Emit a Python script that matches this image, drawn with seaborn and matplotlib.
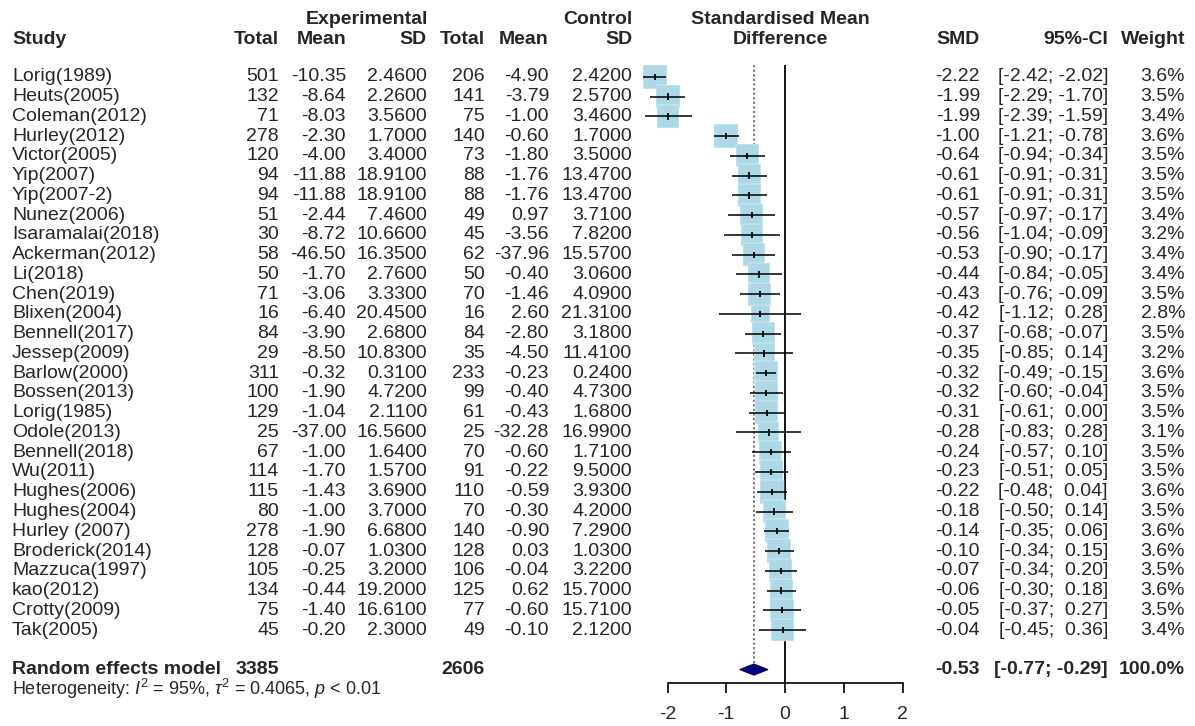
import numpy as np
import pandas as pd
import matplotlib
matplotlib.use("Agg")
import matplotlib.pyplot as plt
import matplotlib.transforms as mtransforms
import seaborn as sns

# study data
studies = ["Lorig(1989)", "Heuts(2005)", "Coleman(2012)", "Hurley(2012)", "Victor(2005)",
           "Yip(2007)", "Yip(2007-2)", "Nunez(2006)", "Isaramalai(2018)", "Ackerman(2012)",
           "Li(2018)", "Chen(2019)", "Blixen(2004)", "Bennell(2017)", "Jessep(2009)",
           "Barlow(2000)", "Bossen(2013)", "Lorig(1985)", "Odole(2013)", "Bennell(2018)",
           "Wu(2011)", "Hughes(2006)", "Hughes(2004)", "Hurley (2007)", "Broderick(2014)",
           "Mazzuca(1997)", "kao(2012)", "Crotty(2009)", "Tak(2005)"]
exp_n = [501, 132, 71, 278, 120, 94, 94, 51, 30, 58, 50, 71, 16, 84, 29,
         311, 100, 129, 25, 67, 114, 115, 80, 278, 128, 105, 134, 75, 45]
exp_mean = [-10.35, -8.64, -8.03, -2.30, -4.00, -11.88, -11.88, -2.44, -8.72, -46.50,
            -1.70, -3.06, -6.40, -3.90, -8.50, -0.32, -1.90, -1.04, -37.00, -1.00,
            -1.70, -1.43, -1.00, -1.90, -0.07, -0.25, -0.44, -1.40, -0.20]
exp_sd = [2.46, 2.26, 3.56, 1.70, 3.40, 18.91, 18.91, 7.46, 10.66, 16.35,
          2.76, 3.33, 20.45, 2.68, 10.83, 0.31, 4.72, 2.11, 16.56, 1.64,
          1.57, 3.69, 3.70, 6.68, 1.03, 3.20, 19.20, 16.61, 2.30]
ctl_n = [206, 141, 75, 140, 73, 88, 88, 49, 45, 62, 50, 70, 16, 84, 35,
         233, 99, 61, 25, 70, 91, 110, 70, 140, 128, 106, 125, 77, 49]
ctl_mean = [-4.90, -3.79, -1.00, -0.60, -1.80, -1.76, -1.76, 0.97, -3.56, -37.96,
            -0.40, -1.46, 2.60, -2.80, -4.50, -0.23, -0.40, -0.43, -32.28, -0.60,
            -0.22, -0.59, -0.30, -0.90, 0.03, -0.04, 0.62, -0.60, -0.10]
ctl_sd = [2.42, 2.57, 3.46, 1.70, 3.50, 13.47, 13.47, 3.71, 7.82, 15.57,
          3.06, 4.09, 21.31, 3.18, 11.41, 0.24, 4.73, 1.68, 16.99, 1.71,
          9.50, 3.93, 4.20, 7.29, 1.03, 3.22, 15.70, 15.71, 2.12]
smd = [-2.22, -1.99, -1.99, -1.00, -0.64, -0.61, -0.61, -0.57, -0.56, -0.53,
       -0.44, -0.43, -0.42, -0.37, -0.35, -0.32, -0.32, -0.31, -0.28, -0.24,
       -0.23, -0.22, -0.18, -0.14, -0.10, -0.07, -0.06, -0.05, -0.04]
ci_lo = [-2.42, -2.29, -2.39, -1.21, -0.94, -0.91, -0.91, -0.97, -1.04, -0.90,
         -0.84, -0.76, -1.12, -0.68, -0.85, -0.49, -0.60, -0.61, -0.83, -0.57,
         -0.51, -0.48, -0.50, -0.35, -0.34, -0.34, -0.30, -0.37, -0.45]
ci_hi = [-2.02, -1.70, -1.59, -0.78, -0.34, -0.31, -0.31, -0.17, -0.09, -0.17,
         -0.05, -0.09, 0.28, -0.07, 0.14, -0.15, -0.04, 0.00, 0.28, 0.10,
         0.05, 0.04, 0.14, 0.06, 0.15, 0.20, 0.18, 0.27, 0.36]
weight = [3.6, 3.5, 3.4, 3.6, 3.5, 3.5, 3.5, 3.4, 3.2, 3.4, 3.4, 3.5, 2.8, 3.5, 3.2,
          3.6, 3.5, 3.5, 3.1, 3.5, 3.5, 3.6, 3.5, 3.6, 3.6, 3.5, 3.6, 3.5, 3.4]

# pooled result
total_exp = 3385
total_ctl = 2606
pooled_smd = -0.53
pooled_lo = -0.77
pooled_hi = -0.29
heterogeneity = r"Heterogeneity: $I^2$ = 95%, $\tau^2$ = 0.4065, $p$ < 0.01"

df = pd.DataFrame({"study": studies, "smd": smd, "lo": ci_lo, "hi": ci_hi, "w": weight})
df["row"] = np.arange(len(df))
df["w2"] = df["w"] ** 2

sns.set_style("white")
plt.rcParams["font.family"] = ["Liberation Sans", "DejaVu Sans"]
plt.rcParams["axes.unicode_minus"] = False
plt.rcParams["mathtext.fontset"] = "custom"
plt.rcParams["mathtext.rm"] = "Liberation Sans"
plt.rcParams["mathtext.it"] = "Liberation Sans:italic"

W, H = 1195, 726
fig = plt.figure(figsize=(W / 100, H / 100), dpi=100)
# forest panel: x=-2.6..2.6 spans px 632..938, y spans px 65..683
ax = fig.add_axes([632.25 / W, (H - 683) / H, 305.5 / W, 618 / H])
ax.set_xlim(-2.6, 2.6)
ax.set_ylim(30.68, -0.6)

# reference lines
ax.vlines(0, -0.6, 30.68, color="black", lw=1.3, zorder=1)
ax.vlines(pooled_smd, -0.6, 29.75, color="#555555", lw=1.1, linestyles=(0, (1.5, 1.5)), zorder=1)

# weight squares
sns.scatterplot(data=df, x="smd", y="row", size="w2", size_norm=(0, 3.6 ** 2),
                sizes=(0, 295), marker="s", color="lightblue", edgecolor="white",
                linewidth=0.3, legend=False, ax=ax, zorder=2)
# confidence intervals and point ticks
ax.hlines(df["row"], df["lo"], df["hi"], color="black", lw=1.1, zorder=3, clip_on=False)
ax.vlines(df["smd"], df["row"] - 0.16, df["row"] + 0.16, color="black", lw=1.3, zorder=3)

# pooled diamond
yd = 30
ax.fill([pooled_lo, pooled_smd, pooled_hi, pooled_smd], [yd, yd - 0.28, yd, yd + 0.28],
        color="#000080", edgecolor="#000060", lw=0.8, zorder=3, clip_on=False)

for s in ["top", "left", "right"]:
    ax.spines[s].set_visible(False)
ax.spines["bottom"].set_bounds(-2, 2)
ax.spines["bottom"].set_linewidth(1.2)
ax.spines["bottom"].set_color("black")
ax.set_xticks([-2, -1, 0, 1, 2])
ax.set_yticks([])
ax.tick_params(axis="x", direction="out", length=7.5, width=1.2, color="black",
               labelsize=14, pad=9, bottom=True)
ax.set_xlabel("")
ax.set_ylabel("")

# text columns
tr = mtransforms.blended_transform_factory(fig.transFigure, ax.transData)
fs = 14


def put(xpx, y, s, ha="right", bold=False, size=fs):
    fig.text(xpx / W, y, s, transform=tr, ha=ha, va="center", fontsize=size,
             fontweight="bold" if bold else "normal")


# headers
y1, y2 = -2.88, -1.87
put(428, y1, "Experimental", bold=True)
put(632, y1, "Control", bold=True)
put(780, y1, "Standardised Mean", ha="center", bold=True)
put(780, y2, "Difference", ha="center", bold=True)
put(12, y2, "Study", ha="left", bold=True)
for xpx, lab in [(279, "Total"), (346, "Mean"), (427, "SD"), (485, "Total"),
                 (549, "Mean"), (632, "SD"), (980, "SMD"), (1108, "95%-CI"), (1185, "Weight")]:
    put(xpx, y2, lab, bold=True)

for i in range(len(studies)):
    put(12, i, studies[i], ha="left")
    put(279, i, f"{exp_n[i]}")
    put(346, i, f"{exp_mean[i]:.2f}")
    put(427, i, f"{exp_sd[i]:.4f}")
    put(485, i, f"{ctl_n[i]}")
    put(549, i, f"{ctl_mean[i]:.2f}")
    put(632, i, f"{ctl_sd[i]:.4f}")
    put(980, i, f"{smd[i]:.2f}")
    lo = f"{ci_lo[i]:.2f}"
    hi = f"{ci_hi[i]:.2f}"
    if not lo.startswith("-"):
        lo = " " + lo
    if not hi.startswith("-"):
        hi = " " + hi
    put(1108, i, f"[{lo}; {hi}]")
    put(1185, i, f"{weight[i]:.1f}%")

put(12, 30, "Random effects model", ha="left", bold=True)
put(279, 30, f"{total_exp}", bold=True)
put(485, 30, f"{total_ctl}", bold=True)
put(980, 30, f"{pooled_smd:.2f}", bold=True)
put(1108, 30, f"[{pooled_lo:.2f}; {pooled_hi:.2f}]", bold=True)
put(1185, 30, "100.0%", bold=True)
put(12, 31.0, heterogeneity, ha="left", size=13)

fig.savefig("out.png", dpi=100)
